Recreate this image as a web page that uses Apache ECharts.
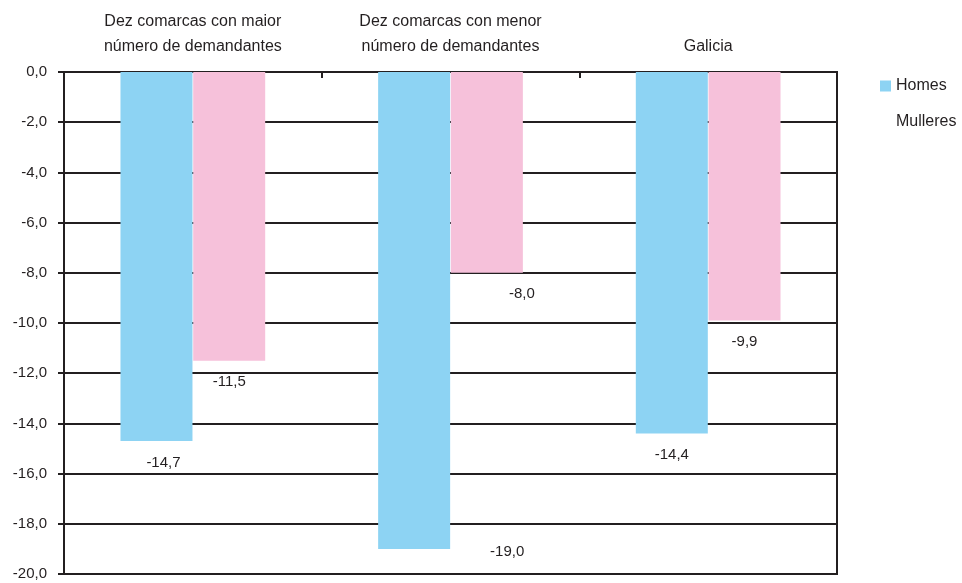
<!DOCTYPE html>
<html>
<head>
<meta charset="utf-8">
<script src="https://cdn.jsdelivr.net/npm/echarts@6/dist/echarts.min.js"></script>
<style>html,body{margin:0;padding:0;background:#fff}#c{width:962px;height:583px}</style>
</head>
<body>
<div id="c"></div>
<script>
const categories = ['Dez comarcas con maior\nnúmero de demandantes', 'Dez comarcas con menor\nnúmero de demandantes', 'Galicia'];
const homes = [-14.7, -19.0, -14.4];
const mulleres = [-11.5, -8.0, -9.9];
const yTicks = [0, -2, -4, -6, -8, -10, -12, -14, -16, -18, -20];

const fmt = v => v.toFixed(1).replace('.', ',');
const homesLabelOffsets = [[7, 0], [93, -19], [0, 0]];
const mulleresLabelOffsets = [[0, 0], [35, 0], [0, 0]];

const axisColor = '#231f20';
const font = '"Liberation Sans", Arial, sans-serif';

const chart = echarts.init(document.getElementById('c'), null, {renderer: 'canvas'});
chart.setOption({
  animation: false,
  textStyle: {fontFamily: font},
  grid: {left: 64, right: 125, top: 72, bottom: 9, show: true, borderColor: axisColor, borderWidth: 2, backgroundColor: 'transparent'},
  legend: {
    orient: 'vertical', left: 880, top: 78, padding: 0, itemWidth: 11, itemHeight: 11, itemGap: 20,
    textStyle: {fontSize: 16, color: '#231f20', fontFamily: font},
    data: [{name: 'Homes', icon: 'rect'}, {name: 'Mulleres', icon: 'rect', itemStyle: {opacity: 0}}]
  },
  xAxis: {
    type: 'category', position: 'top', data: categories,
    axisLine: {show: true, lineStyle: {color: axisColor, width: 2}},
    axisTick: {show: true, inside: true, length: 6, lineStyle: {color: axisColor, width: 2}},
    axisLabel: {fontSize: 16, color: '#231f20', lineHeight: 25, margin: 13, fontFamily: font}
  },
  yAxis: {
    type: 'value', min: -20, max: 0, interval: 2,
    axisLine: {show: true, lineStyle: {color: axisColor, width: 2}},
    axisTick: {show: true, length: 6, lineStyle: {color: axisColor, width: 2}},
    axisLabel: {fontSize: 15, color: '#231f20', margin: 17, formatter: v => fmt(v), fontFamily: font},
    splitLine: {show: true, lineStyle: {color: axisColor, width: 2}}
  },
  series: [
    {
      name: 'Homes', type: 'bar', barWidth: 72, barGap: '1%',
      itemStyle: {color: '#8dd3f3'},
      data: homes.map((v, i) => ({value: v, label: {offset: homesLabelOffsets[i]}})),
      label: {show: true, position: 'bottom', distance: 14, fontSize: 15, color: '#231f20', formatter: p => fmt(p.value), fontFamily: font}
    },
    {
      name: 'Mulleres', type: 'bar', barWidth: 72, barGap: '1%',
      itemStyle: {color: '#f6c1da'},
      data: mulleres.map((v, i) => ({value: v, label: {offset: mulleresLabelOffsets[i]}})),
      label: {show: true, position: 'bottom', distance: 14, fontSize: 15, color: '#231f20', formatter: p => fmt(p.value), fontFamily: font}
    }
  ]
});
</script>
</body>
</html>
